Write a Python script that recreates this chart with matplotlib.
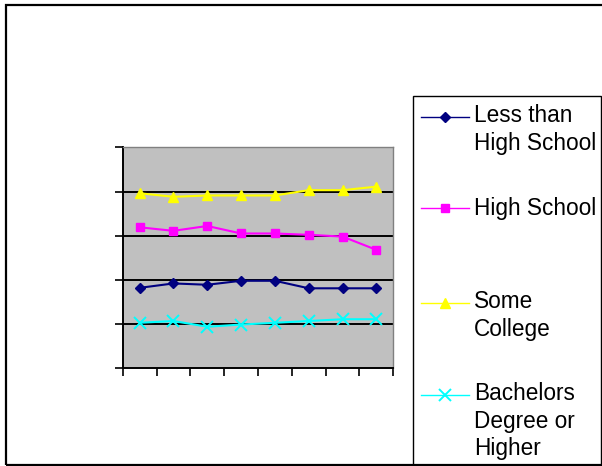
import matplotlib
matplotlib.use("Agg")
import matplotlib.pyplot as plt
from matplotlib.lines import Line2D
from matplotlib.patches import Rectangle

plt.rcParams['font.family'] = ['Liberation Sans', 'DejaVu Sans']

# Data (y axis unlabeled, 0-5 scale)
periods = list(range(8))
less_than_hs = [1.82, 1.92, 1.89, 1.98, 1.98, 1.81, 1.81, 1.81]
high_school = [3.19, 3.11, 3.22, 3.05, 3.05, 3.02, 2.98, 2.68]
some_college = [3.96, 3.88, 3.91, 3.91, 3.91, 4.03, 4.03, 4.11]
bachelors = [1.03, 1.07, 0.94, 0.99, 1.03, 1.07, 1.11, 1.11]
labels = ["Less than\nHigh School", "High School", "Some\nCollege",
          "Bachelors\nDegree or\nHigher"]

W, H = 602, 466
fig = plt.figure(figsize=(W / 100, H / 100), dpi=100)

def fx(px):
    return px / W

def fy(py):
    return 1 - py / H

# outer frame
fig.patches.append(Rectangle((fx(6), fy(464.5)), fx(700) - fx(6), fy(5) - fy(464.5),
                             transform=fig.transFigure, fill=False, edgecolor='black',
                             linewidth=1.6, clip_on=False))

ax = fig.add_axes([fx(122.7), fy(368.3), fx(393.3) - fx(122.7), fy(147.3) - fy(368.3)])
ax.set_facecolor('#C0C0C0')
ax.set_xlim(-0.5, 7.5)
ax.set_ylim(0, 5)
ax.set_yticks([0, 1, 2, 3, 4, 5])
ax.set_xticks([i - 0.5 for i in range(9)])
ax.set_xticklabels([])
ax.set_yticklabels([])
ax.tick_params(axis='both', direction='out', length=5.8, width=1.2, color='black')
for y in [1, 2, 3, 4]:
    ax.axhline(y, color='black', linewidth=1.4, zorder=1)
for s in ['left', 'bottom']:
    ax.spines[s].set_color('black')
    ax.spines[s].set_linewidth(1.4)
for s in ['top', 'right']:
    ax.spines[s].set_color('#808080')
    ax.spines[s].set_linewidth(1.0)

styles = [
    (less_than_hs, '#000080', 'D', 5.2, 1.5),
    (high_school, '#FF00FF', 's', 5.8, 1.5),
    (some_college, '#FFFF00', '^', 7.6, 1.5),
    (bachelors, '#00FFFF', 'x', 8.6, 1.5),
]
for vals, col, mk, ms, lw in styles:
    kw = dict(markerfacecolor=col, markeredgecolor=col)
    if mk == 'x':
        kw['markeredgewidth'] = 1.4
    ax.plot(periods, vals, color=col, marker=mk, markersize=ms, linewidth=lw,
            zorder=3, clip_on=False, **kw)

# legend box
fig.patches.append(Rectangle((fx(413), fy(464.5)), fx(601) - fx(413), fy(96) - fy(464.5),
                             transform=fig.transFigure, fill=False, edgecolor='black',
                             linewidth=1.0, clip_on=False))
marker_y = [116.7, 208.3, 303.3, 395]
base_y = [122.3, 215, 308.3, 400.5]
for (vals, col, mk, ms, lw), lab, my, by in zip(styles, labels, marker_y, base_y):
    kw = dict(markerfacecolor=col, markeredgecolor=col)
    if mk == 'x':
        kw['markeredgewidth'] = 1.4
    fig.add_artist(Line2D([fx(421), fx(469)], [fy(my), fy(my)], color=col, linewidth=1.0,
                          transform=fig.transFigure))
    fig.add_artist(Line2D([fx(445)], [fy(my)], color=col, marker=mk, markersize=ms,
                          linestyle='none', transform=fig.transFigure, **kw))
    for i, line in enumerate(lab.split('\n')):
        fig.text(fx(474), fy(by + i * 27.5), line, fontsize=16.3, va='baseline',
                 ha='left', color='black')

fig.savefig('out.png', dpi=100)
